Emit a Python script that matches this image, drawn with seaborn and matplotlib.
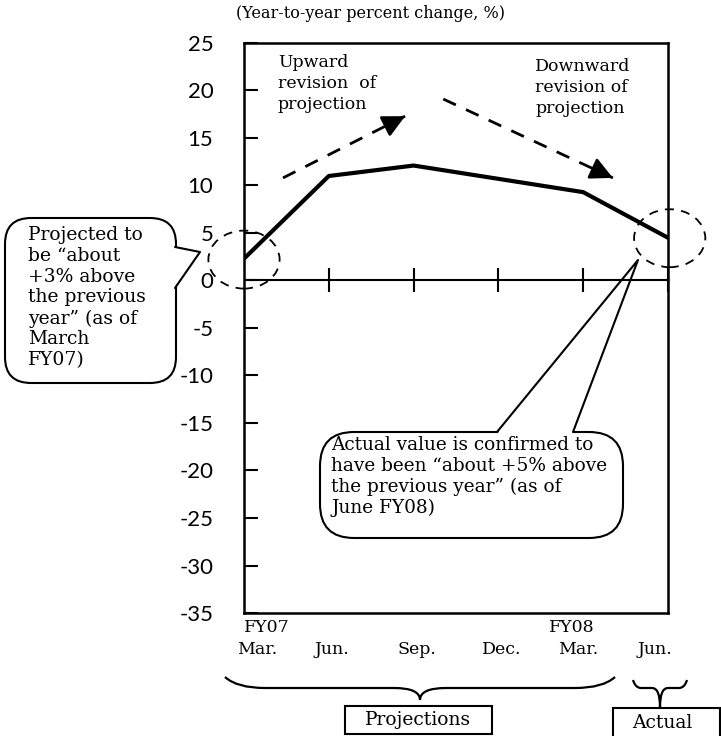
import numpy as np
import pandas as pd
import seaborn as sns
import matplotlib
matplotlib.use("Agg")
import matplotlib.pyplot as plt
import matplotlib.transforms as mtransforms
from matplotlib.patches import Ellipse, FancyBboxPatch, Rectangle, PathPatch, Polygon
from matplotlib.path import Path

# ---------------- data ----------------
periods = ["Mar. FY07", "Jun. FY07", "Sep. FY07", "Dec. FY07", "Mar. FY08", "Jun. FY08"]
growth = [2.3, 11.0, 12.1, 10.7, 9.3, 4.5]
month_labels = ["Mar.", "Jun.", "Sep.", "Dec.", "Mar.", "Jun."]
fy_labels = ["FY07", "", "", "", "FY08", ""]
y_ticks = [25, 20, 15, 10, 5, 0, -5, -10, -15, -20, -25, -30, -35]

# label horizontal nudges (layout only)
month_dx = [0.15, 0.04, 0.04, 0.04, -0.06, -0.15]
fy_dx = [0.0, 0, 0, 0, -0.13, 0]

sns.set_theme(style="white")
plt.rcParams["font.family"] = ["DejaVu Serif"]
plt.rcParams["text.color"] = "black"

W, H = 721, 736
fig = plt.figure(figsize=(W / 100, H / 100), dpi=100)
ax = fig.add_axes([244 / W, 1 - 613 / H, (668 - 244) / W, (613 - 43) / H])

df = pd.DataFrame({"x": np.arange(len(growth)), "growth": growth, "period": periods})
sns.lineplot(data=df, x="x", y="growth", color="black", linewidth=3, ax=ax, zorder=3)

ax.set_xlim(0, len(growth) - 1)
ax.set_ylim(min(y_ticks), max(y_ticks))
ax.set_xlabel("")
ax.set_ylabel("")
ax.set_xticks([])
ax.set_yticks(y_ticks)
ax.set_yticklabels([str(v) for v in y_ticks], family=["Lato", "DejaVu Sans"], fontsize=16,
                   color="black")
ax.tick_params(axis="y", direction="in", length=10, width=1.5, pad=22, colors="black",
               left=True, right=False)
for s in ax.spines.values():
    s.set_color("black")
    s.set_linewidth(1.8)

# zero line with cross ticks
ax.axhline(0, color="black", lw=1.5, zorder=2)
ax.plot(df["x"][1:], np.zeros(len(growth) - 1), ls="", marker="|", ms=17, mew=1.5,
        color="black", zorder=2, clip_on=False)

# x labels
trans = mtransforms.blended_transform_factory(ax.transData, ax.transAxes)
for i, (m, f) in enumerate(zip(month_labels, fy_labels)):
    ax.text(i + month_dx[i], (613 - 650) / 570, m, transform=trans, ha="center", va="center",
            fontsize=12.5)
    if f:
        ha = "left" if i == 0 else "center"
        ax.text(i + fy_dx[i], (613 - 627) / 570, f, transform=trans, ha=ha, va="center",
                fontsize=12.5)

# dashed ellipses
for cx, cy in [(0.0, 2.2), (5.02, 4.45)]:
    ax.add_patch(Ellipse((cx, cy), 0.84, 6.1, fill=False, ec="black", lw=1.3,
                         ls=(0, (5, 4)), clip_on=False, zorder=4))

# revision arrows
def dashed_arrow(p0, p1):
    p0 = np.array(p0); p1 = np.array(p1)
    ax.plot([p0[0], p1[0]], [p0[1], p1[1]], color="black", lw=2, ls=(0, (5, 4)), zorder=3)
    d = p1 - p0
    q = p1 - d * 0.12
    ax.annotate("", xy=tuple(p1), xytext=tuple(q),
                arrowprops=dict(arrowstyle="-|>,head_length=0.9,head_width=0.45",
                                color="black", lw=2, shrinkA=0, shrinkB=0, mutation_scale=15))

dashed_arrow((0.46, 10.8), (1.90, 17.3))
dashed_arrow((2.35, 19.1), (4.35, 10.8))

T = mtransforms.Affine2D().scale(1 / W, -1 / H).translate(0, 1) + fig.transFigure

ax.text(278, 54, "Upward\nrevision  of\nprojection", transform=T, ha="left", va="top",
        fontsize=12.5, linespacing=1.3)
ax.text(535, 58, "Downward\nrevision of\nprojection", transform=T, ha="left", va="top",
        fontsize=12.5, linespacing=1.3)

# title
fig.text(370 / W, 1 - 14 / H, "(Year-to-year percent change, %)", ha="center", va="center",
         fontsize=11.5)

# left callout
ax.add_patch(FancyBboxPatch((5, 218), 171, 165, boxstyle="round,pad=0,rounding_size=26",
                            transform=T, fc="white", ec="black", lw=1.5, clip_on=False, zorder=6))
ax.add_patch(Polygon([(174, 247), (200, 252), (174, 288)], closed=True, transform=T,
                     fc="white", ec="none", clip_on=False, zorder=7))
ax.add_line(plt.Line2D([175, 200, 175], [247, 252, 288], transform=T, color="black", lw=1.5,
                       clip_on=False, zorder=8))
ax.text(28, 226, "Projected to\nbe \u201cabout\n+3% above\nthe previous\nyear\u201d (as of\nMarch\nFY07)",
        transform=T, ha="left", va="top", fontsize=13.5, linespacing=1.2, zorder=9)

# bottom callout
ax.add_patch(FancyBboxPatch((320, 432), 303, 106, boxstyle="round,pad=0,rounding_size=34",
                            transform=T, fc="white", ec="black", lw=1.5, clip_on=False, zorder=6))
ax.add_patch(Polygon([(497.5, 434), (572.5, 434), (574.5, 428), (500.5, 428)], closed=True,
                     transform=T, fc="white", ec="none", clip_on=False, zorder=7))
ax.add_line(plt.Line2D([497, 638, 573], [432, 260, 432], transform=T, color="black", lw=1.5,
                       clip_on=False, zorder=8))
ax.text(331, 436, "Actual value is confirmed to\nhave been \u201cabout +5% above\nthe previous year\u201d (as of\nJune FY08)",
        transform=T, ha="left", va="top", fontsize=13.3, linespacing=1.2, zorder=9)

# braces
def brace(x0, x1, xc, ytop, ymid, ytip, r_end, r_mid):
    verts = [(x0, ytop), (x0 + r_end * 0.3, ymid), (x0 + r_end, ymid),
             (xc - r_mid, ymid), (xc, ymid), (xc, ytip),
             (xc, ymid), (xc + r_mid, ymid),
             (x1 - r_end, ymid), (x1 - r_end * 0.3, ymid), (x1, ytop)]
    codes = [Path.MOVETO, Path.CURVE3, Path.CURVE3,
             Path.LINETO, Path.CURVE3, Path.CURVE3,
             Path.CURVE3, Path.CURVE3,
             Path.LINETO, Path.CURVE3, Path.CURVE3]
    ax.add_patch(PathPatch(Path(verts, codes), transform=T, fc="none", ec="black", lw=1.6,
                           clip_on=False))

brace(225, 615, 420, 677, 688, 700, 40, 26)
brace(633, 687, 660, 680, 688, 707, 8, 8)

# label boxes
ax.add_patch(Rectangle((345, 706), 147, 28, transform=T, fc="white", ec="black", lw=1.5,
                       clip_on=False))
ax.text(418.5, 720, "Projections", transform=T, ha="center", va="center", fontsize=13.5)
ax.add_patch(Rectangle((613, 708), 107, 30, transform=T, fc="white", ec="black", lw=1.5,
                       clip_on=False))
ax.text(662, 723, "Actual", transform=T, ha="center", va="center", fontsize=13.5)

fig.savefig("out.png", dpi=100)
